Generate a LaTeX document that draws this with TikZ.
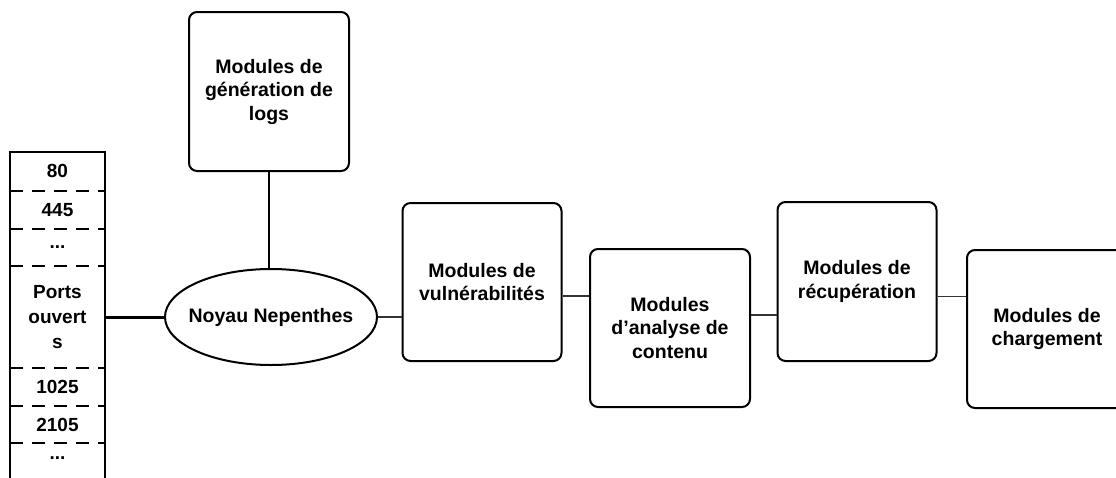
\documentclass[tikz,border=0pt]{standalone}
\usepackage{fontspec}
\setmainfont{Liberation Sans}
\usetikzlibrary{shapes.geometric,calc}
\begin{document}
\begin{tikzpicture}[x=1pt,y=-1pt,
  every node/.style={font=\bfseries\fontsize{19.5}{23.5}\selectfont, align=center, inner sep=0pt},
  modbox/.style={draw, line width=2pt, rounded corners=8pt, minimum width=160pt, minimum height=158pt},
  conn/.style={line width=1.2pt, draw=black!80},
  portline/.style={line width=2pt},
  portdash/.style={line width=2pt, dash pattern=on 13pt off 9pt},
  cell/.style={minimum width=95pt, font=\bfseries\fontsize{19}{25}\selectfont}]
\useasboundingbox (0,0) rectangle (1116,477);
\clip (0,0) rectangle (1116,477);
% ports column
\draw[portline] (10,478) -- (10,152) -- (105,152) -- (105,478);
\foreach \yy in {190.7,229,265.7,368,405.7,443}
  \draw[portdash] (10,\yy) -- (105,\yy);
\node[cell] (p80) at (57.5,171) {80};
\node[cell] (p445) at (57.5,210) {445};
\node[cell] (pd1) at (57.5,247.5) {...};
\node[cell, minimum height=102pt] (ports) at (57.5,317) {Ports\\ouvert\\s};
\node[cell] (p1025) at (57.5,387) {1025};
\node[cell] (p2105) at (57.5,424.5) {2105};
\node[cell] (pd2) at (57.5,458) {...};
% nodes
\node[draw, ellipse, line width=2pt, minimum width=212pt, minimum height=96pt] (ell) at (271,317) {};
\node (elltext) at (ell.center) {Noyau Nepenthes};
\node[modbox, minimum height=159pt] (logs) at (269,91.5) {Modules de\\génération de\\logs};
\node[modbox, minimum width=159pt] (vuln) at (482,282) {Modules de\\vulnérabilités};
\node[modbox] (ana) at (670,328) {Modules\\d’analyse de\\contenu};
\node[modbox, minimum width=159pt, minimum height=159pt] (rec) at (857,281.5) {Modules de\\récupération};
\node[modbox] (charg) at (1047,329) {Modules de\\chargement};
% connectors
\draw[line width=3pt] (ports.east) -- (ell.west);
\draw[line width=1.5pt] (logs.south) -- (logs.south |- ell.north);
\draw[conn] (ell.east) -- (ell.east -| vuln.west);
\draw[conn] ([yshift=-14pt]vuln.east) -- ([yshift=-14pt]vuln.east -| ana.west);
\draw[conn] ([yshift=13pt]ana.east) -- ([yshift=13pt]ana.east -| rec.west);
\draw[conn] ([yshift=-15pt]rec.east) -- ([yshift=-15pt]rec.east -| charg.west);
\end{tikzpicture}
\end{document}
